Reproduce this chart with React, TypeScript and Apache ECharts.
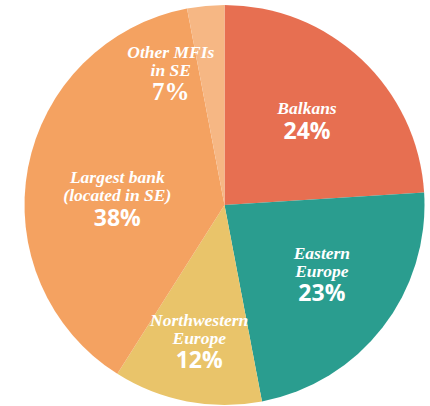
import React, { useEffect, useRef } from "react";
import * as echarts from "echarts";

const categories = ["Balkans", "Eastern\nEurope", "Northwestern\nEurope", "Largest bank\n(located in SE)", "Other MFIs\nin SE"];
const values = [24, 23, 12, 38, 3];
const pctLabels = ["24%", "23%", "12%", "38%", "7%"];
const colors = ["#E76F51", "#2A9D8F", "#E9C46A", "#F4A261", "#F6B784"];
const labelDx = [12, 16, -6, -6, -44];
const labelDy = [-9, 6, 35, 13, -29];

export default function App() {
  const ref = useRef<HTMLDivElement>(null);
  useEffect(() => {
    document.body.style.margin = "0";
    const chart = echarts.init(ref.current!, undefined, { renderer: "svg" });
    chart.setOption({
      animation: false,
      series: [
        {
          type: "pie",
          center: [224.5, 205],
          radius: 200,
          startAngle: 90,
          clockwise: true,
          avoidLabelOverlap: false,
          data: categories.map((name, i) => ({
            name,
            value: values[i],
            itemStyle: { color: colors[i] },
          })),
          label: {
            show: true,
            position: "inside",
            color: "#fff",
            align: "center",
            formatter: (p: any) => {
              const i = p.dataIndex;
              const lines = categories[i].split("\n").map((l) => `{n|${l}}`).join("\n");
              const pStyle = i === 4 ? "q" : "p";
              return `${lines}\n{${pStyle}|${pctLabels[i]}}`;
            },
            rich: {
              n: {
                fontFamily: "Liberation Serif",
                fontStyle: "italic",
                fontWeight: "bold",
                fontSize: 17.5,
                lineHeight: 18,
                color: "#fff",
                align: "center",
              },
              p: {
                fontFamily: "Open Sans",
                fontWeight: "bold",
                fontSize: 23,
                lineHeight: 25,
                color: "#fff",
                align: "center",
              },
              q: {
                fontFamily: "Liberation Serif",
                fontWeight: "bold",
                fontSize: 25,
                lineHeight: 25,
                color: "#fff",
                align: "center",
              },
            },
          },
          labelLine: { show: false },
          labelLayout: (params: any) => ({
            dx: labelDx[params.dataIndex],
            dy: labelDy[params.dataIndex],
          }),
          emphasis: { disabled: true },
        },
      ],
    });
    return () => chart.dispose();
  }, []);
  return <div ref={ref} style={{ width: 430, height: 406 }} />;
}
